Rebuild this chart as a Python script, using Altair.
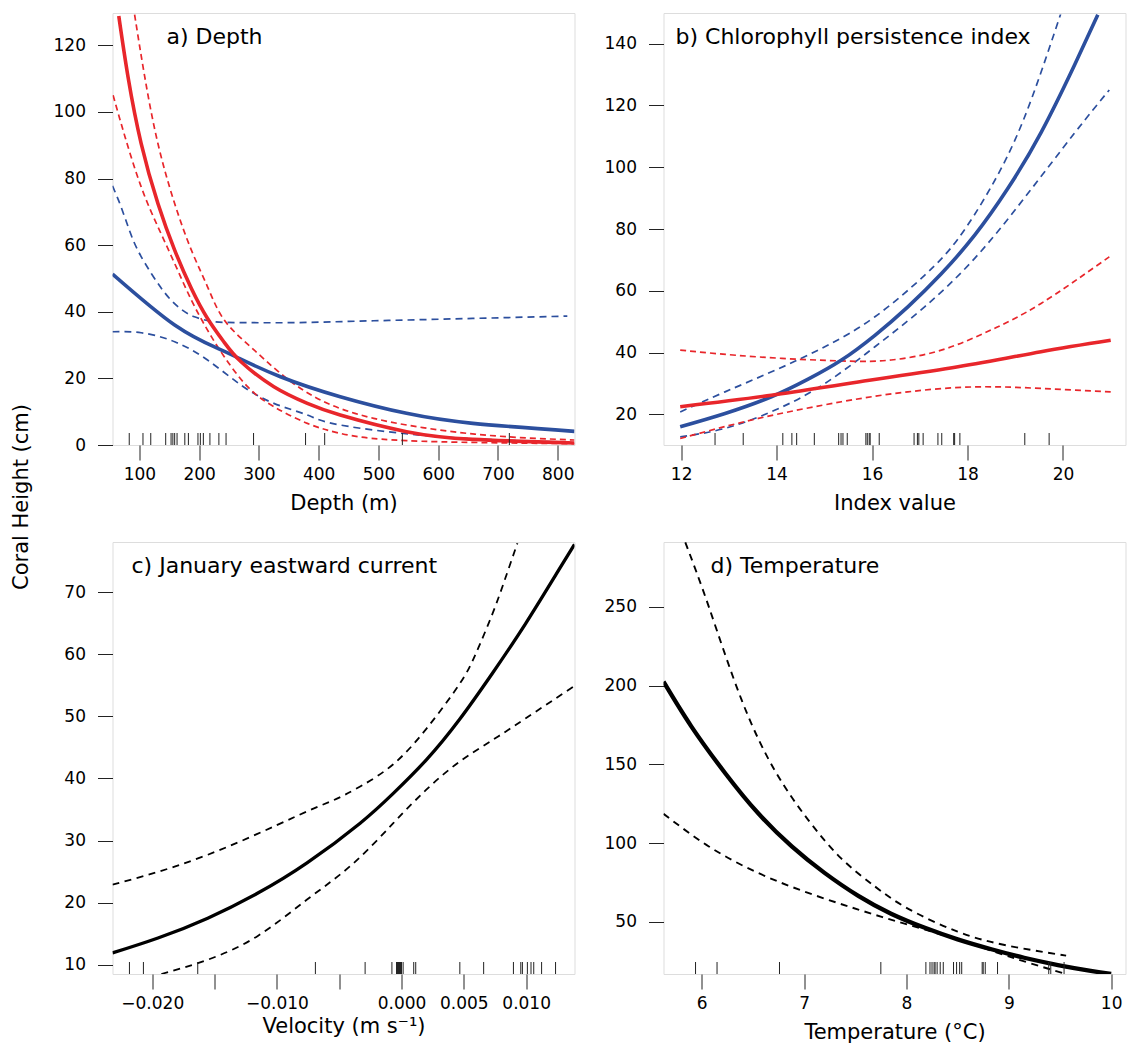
import altair as alt
import pandas as pd

FONT = "DejaVu Sans"
RED = "#e8262b"
BLUE = "#2c4f9e"
BLACK = "#000000"

# ---------------- Panel a: Depth ----------------
a_rug = [83, 106, 119, 144, 153, 156, 159, 163, 176, 182, 198, 202, 207, 218, 233,
         245, 291, 378, 410, 540, 719]
a_blue_fit_x = [55, 159, 231, 267, 336, 436, 547, 658, 828]
a_blue_fit_y = [51.3, 36.0, 29.0, 26.0, 20.5, 14.5, 9.5, 6.5, 4.1]
a_blue_hi_x = [55, 65, 92, 120, 153, 192, 242, 325, 492, 658, 816]
a_blue_hi_y = [77.8, 73.5, 60.5, 51.5, 43.5, 38.5, 36.8, 36.7, 37.3, 38.0, 38.7]
a_blue_lo_x = [55, 103, 159, 214, 270, 325, 381, 436, 602, 816]
a_blue_lo_y = [34.0, 33.7, 31.0, 25.5, 18.0, 12.5, 9.0, 6.0, 2.5, 0.8]
a_red_fit_x = [65.5, 81, 103, 131, 159, 187, 214, 242, 270, 325, 381, 436, 547, 658, 828]
a_red_fit_y = [128.8, 110.5, 90.5, 72.5, 58.5, 47.0, 38.0, 30.8, 25.0, 17.5, 12.5, 9.0, 4.0, 1.7, 0.6]
a_red_hi_x = [92, 109, 131, 159, 187, 214, 242, 286, 336, 403, 492, 602, 713, 828]
a_red_hi_y = [129.2, 110.5, 90.5, 72.5, 58.5, 47.5, 37.5, 29.5, 21.5, 13.5, 8.0, 4.5, 2.5, 1.5]
a_red_lo_x = [56, 76, 103, 131, 159, 187, 214, 242, 281, 325, 381, 436, 547, 828]
a_red_lo_y = [105.0, 92.5, 77.5, 65.5, 54.5, 43.5, 34.5, 26.5, 17.5, 11.5, 6.5, 3.5, 1.3, 0.4]

# ---------------- Panel b: Chlorophyll persistence index ----------------
b_rug = [12.71, 13.30, 14.13, 14.32, 14.42, 14.79, 15.30, 15.35, 15.39, 15.48, 15.87,
         15.90, 15.94, 15.96, 16.15, 16.88, 16.95, 16.98, 17.07, 17.38, 17.46, 17.71,
         17.73, 17.84, 19.20, 19.71]
b_blue_fit_x = [11.98, 12.92, 13.89, 14.66, 15.36, 16.06, 16.75, 17.45, 18.15, 18.84, 19.54, 20.24, 20.73]
b_blue_fit_y = [16.0, 20.3, 25.7, 31.4, 37.6, 45.6, 54.8, 65.5, 78.0, 93.0, 111.2, 133.0, 149.3]
b_blue_hi_x = [11.98, 12.92, 13.97, 15.01, 16.06, 17.10, 17.80, 18.49, 19.19, 19.95]
b_blue_hi_y = [20.8, 27.3, 34.3, 41.9, 51.6, 65.0, 76.8, 93.5, 116.0, 149.5]
b_blue_lo_x = [11.98, 12.92, 13.97, 15.01, 16.06, 17.10, 18.15, 19.19, 20.24, 20.97]
b_blue_lo_y = [12.75, 15.5, 21.4, 30.0, 41.9, 54.8, 70.5, 90.0, 111.0, 125.0]
b_red_fit_x = [11.98, 13.89, 15.71, 17.80, 19.54, 21.0]
b_red_fit_y = [22.5, 26.2, 30.5, 35.4, 40.3, 44.0]
b_red_hi_x = [11.98, 13.62, 15.36, 16.40, 17.45, 18.49, 19.54, 20.97]
b_red_hi_y = [40.8, 38.6, 37.3, 37.6, 40.8, 47.3, 55.9, 71.0]
b_red_lo_x = [11.98, 13.62, 15.36, 16.75, 18.15, 19.54, 21.0]
b_red_lo_y = [12.2, 18.7, 24.1, 27.3, 28.9, 28.4, 27.3]

# ---------------- Panel c: January eastward current ----------------
c_rug = [-0.02183, -0.02071, -0.01635, -0.00691, -0.00292, -0.00077, -0.0004, -0.00032,
         -0.00024, -0.00016, -0.00008, 0.0, 0.00013, 0.00098, 0.00114, 0.00468, 0.00659,
         0.00898, 0.00957, 0.00970, 0.01010, 0.01039, 0.01061, 0.01124, 0.01236]
c_fit_x = [-0.02319, -0.01954, -0.01555, -0.01156, -0.00758, -0.00332, -0.00066,
           0.00199, 0.00465, 0.00731, 0.00997, 0.01262, 0.01388]
c_fit_y = [11.9, 14.3, 17.5, 21.5, 26.4, 32.8, 37.6, 43.0, 49.5, 57.0, 65.0, 73.6, 77.7]
c_hi_x = [-0.02319, -0.01821, -0.01289, -0.00758, -0.00545, -0.00332, -0.00066, 0.00199,
          0.00465, 0.00598, 0.00731, 0.00837, 0.0093]
c_hi_y = [22.9, 25.8, 29.9, 34.7, 36.5, 38.7, 42.3, 48.0, 55.2, 60.2, 66.6, 72.5, 77.9]
c_lo_x = [-0.01927, -0.01555, -0.01156, -0.00758, -0.00399, -0.00066, 0.00199, 0.00465,
          0.00731, 0.00997, 0.01388]
c_lo_y = [8.5, 10.8, 14.6, 20.5, 26.1, 32.8, 38.2, 42.7, 46.2, 49.7, 54.9]

# ---------------- Panel d: Temperature ----------------
d_rug = [5.94, 6.15, 6.76, 7.75, 8.19, 8.23, 8.25, 8.27, 8.28, 8.30, 8.33, 8.36, 8.46,
         8.49, 8.52, 8.54, 8.74, 8.75, 8.77, 8.89, 9.39, 9.41, 9.54]
d_fit_x = [5.627, 5.90, 6.23, 6.55, 6.88, 7.20, 7.53, 7.85, 8.18, 8.50, 8.83, 9.15, 9.48, 9.80, 10.0]
d_fit_y = [202.5, 174.0, 144.4, 119.1, 97.9, 81.1, 66.5, 55.2, 46.2, 38.9, 32.6, 27.2, 22.6, 18.9, 16.9]
d_hi_x = [5.84, 6.07, 6.39, 6.72, 7.04, 7.36, 7.69, 8.01, 8.50, 8.99, 9.56]
d_hi_y = [291.0, 250.0, 190.9, 145.5, 114.8, 90.5, 72.6, 58.6, 43.8, 34.9, 28.6]
d_lo_x = [5.627, 6.07, 6.55, 7.04, 7.53, 8.01, 8.50, 8.99, 9.56]
d_lo_y = [118.6, 97.9, 81.1, 68.4, 57.8, 48.3, 38.8, 28.2, 16.9]

W, H = 462, 432

axis_common = dict(
    domain=False, grid=False, ticks=True, tickSize=15, tickColor="#222222", tickWidth=1,
    labelFont=FONT, labelFontSize=17, labelColor="black",
    titleFont=FONT, titleFontSize=21, titleFontWeight="normal", titleColor="black",
)


def panel(xd, xvals, xtitle, yd, yvals, title, title_x, lines, rug,
          label_expr=None, title_pad=10):
    xaxis_kw = dict(axis_common, values=xvals, title=xtitle, labelPadding=6,
                    titlePadding=title_pad)
    if label_expr:
        xaxis_kw["labelExpr"] = label_expr
    X = alt.X("x:Q", scale=alt.Scale(domain=xd, nice=False, zero=False),
              axis=alt.Axis(**xaxis_kw))
    Y = alt.Y("y:Q", scale=alt.Scale(domain=yd, nice=False, zero=False),
              axis=alt.Axis(**dict(axis_common, values=yvals, title=None, labelPadding=12)))
    layers = []
    for xs, ys, color, width, dash, interp in lines:
        df = pd.DataFrame({"x": xs, "y": ys})
        kw = dict(color=color, strokeWidth=width, interpolate=interp, clip=True)
        if dash:
            kw["strokeDash"] = dash
        layers.append(alt.Chart(df).mark_line(**kw).encode(x=X, y=Y))
    rug_df = pd.DataFrame({"x": rug})
    layers.append(
        alt.Chart(rug_df).mark_rule(color="#222222", strokeWidth=1).encode(
            x=X, y=alt.value(H - 12), y2=alt.value(H)
        )
    )
    layers.append(
        alt.Chart(pd.DataFrame({"t": [title]})).mark_text(
            align="left", baseline="alphabetic", font=FONT, fontSize=22, color="black"
        ).encode(x=alt.value(title_x), y=alt.value(31), text="t:N")
    )
    return layers


RD = [6, 4]
BD = [7, 5]
KD = [7, 5.5]
N = "natural"
M = "monotone"

pa = panel([55, 828], [100, 200, 300, 400, 500, 600, 700, 800], "Depth (m)",
           [0, 129.7], [0, 20, 40, 60, 80, 100, 120], "a) Depth", 54,
           [
               (a_blue_hi_x, a_blue_hi_y, BLUE, 1.7, BD, M),
               (a_blue_lo_x, a_blue_lo_y, BLUE, 1.7, BD, N),
               (a_red_hi_x, a_red_hi_y, RED, 1.7, RD, N),
               (a_red_lo_x, a_red_lo_y, RED, 1.7, RD, N),
               (a_blue_fit_x, a_blue_fit_y, BLUE, 3.6, None, N),
               (a_red_fit_x, a_red_fit_y, RED, 3.6, None, N),
           ], a_rug)
pa.append(
    alt.Chart(pd.DataFrame({"t": ["Coral Height (cm)"]})).mark_text(
        align="center", baseline="middle", angle=270, font=FONT, fontSize=21, color="black"
    ).encode(x=alt.value(-91), y=alt.value(484), text="t:N")
)
chart_a = alt.layer(*pa).properties(width=W, height=H)

pb = panel([11.63, 21.31], [12, 14, 16, 18, 20], "Index value",
           [10.1, 149.9], [20, 40, 60, 80, 100, 120, 140], "b) Chlorophyll persistence index", 12,
           [
               (b_blue_hi_x, b_blue_hi_y, BLUE, 1.7, BD, N),
               (b_blue_lo_x, b_blue_lo_y, BLUE, 1.7, BD, N),
               (b_red_hi_x, b_red_hi_y, RED, 1.7, RD, N),
               (b_red_lo_x, b_red_lo_y, RED, 1.7, RD, N),
               (b_blue_fit_x, b_blue_fit_y, BLUE, 3.6, None, N),
               (b_red_fit_x, b_red_fit_y, RED, 3.6, None, N),
           ], b_rug)
chart_b = alt.layer(*pb).properties(width=W, height=H)

c_expr = "(datum.value == -0.015 || datum.value == -0.005) ? '' : format(datum.value, '.3f')"
pc = panel([-0.02319, 0.01388], [-0.02, -0.015, -0.01, -0.005, 0, 0.005, 0.01],
           "Velocity (m s\u207b\u00b9)",
           [8.5, 78.1], [10, 20, 30, 40, 50, 60, 70], "c) January eastward current", 19,
           [
               (c_hi_x, c_hi_y, BLACK, 1.8, KD, N),
               (c_lo_x, c_lo_y, BLACK, 1.8, KD, N),
               (c_fit_x, c_fit_y, BLACK, 3.3, None, N),
           ], c_rug, label_expr=c_expr, title_pad=4)
chart_c = alt.layer(*pc).properties(width=W, height=H)

pd_ = panel([5.627, 10.14], [6, 7, 8, 9, 10], "Temperature (\u00b0C)",
            [16.9, 291.2], [50, 100, 150, 200, 250], "d) Temperature", 47,
            [
                (d_hi_x, d_hi_y, BLACK, 1.9, KD, N),
                (d_lo_x, d_lo_y, BLACK, 1.9, KD, N),
                (d_fit_x, d_fit_y, BLACK, 4.3, None, N),
            ], d_rug)
chart_d = alt.layer(*pd_).properties(width=W, height=H)

chart = alt.concat(
    chart_a, chart_b, chart_c, chart_d, columns=2,
    spacing={"row": 97, "column": 89}, bounds="flush",
).properties(
    padding={"left": 1.5, "top": 4, "right": 0, "bottom": 0}
).configure_view(
    stroke="#222222", strokeWidth=1
).configure(background="white")

chart.save("out.html", embed_options={"renderer": "svg", "actions": False})
